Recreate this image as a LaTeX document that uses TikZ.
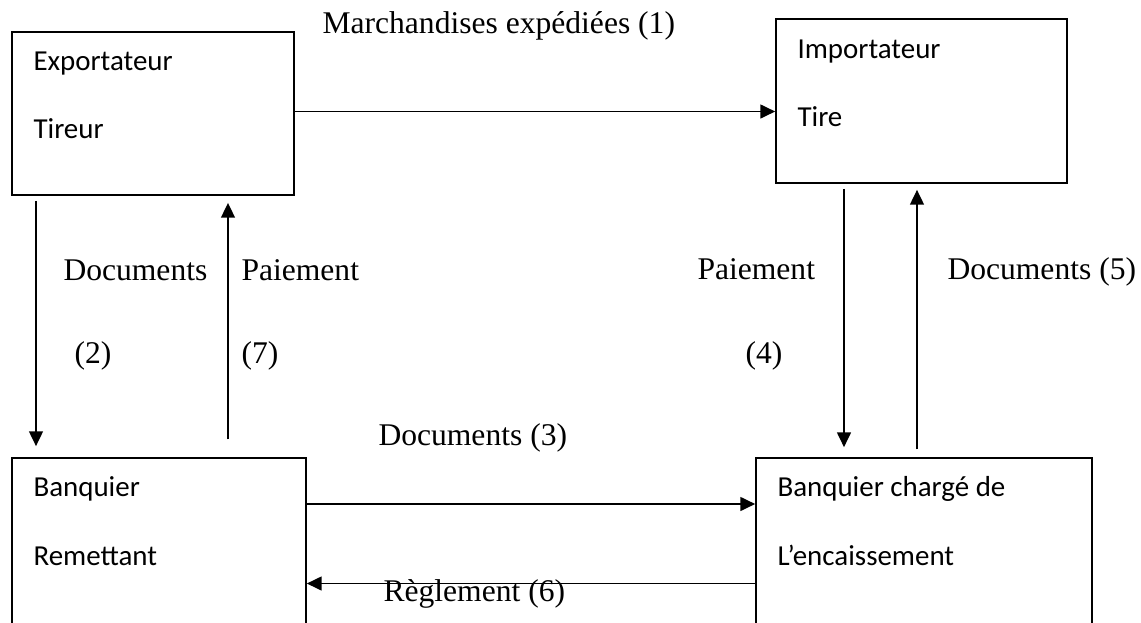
\documentclass[tikz,border=0pt]{standalone}
\usepackage{fontspec}
\setmainfont{Liberation Serif}
\newfontfamily\boxfont{Carlito}
\usetikzlibrary{arrows.meta}
\begin{document}
\begin{tikzpicture}[x=0.38pt,y=-0.38pt,
  party/.style={draw,line width=0.6pt,rectangle,inner sep=0pt},
  intext/.style={font=\boxfont\fontsize{11}{13}\selectfont,anchor=base west,inner sep=0pt},
  lbl/.style={font=\fontsize{12}{14}\selectfont,anchor=base west,inner sep=0pt},
  flow/.style={line width=0.75pt,-{Triangle[length=5.6pt,width=5.2pt]}}]
\clip (0,0) rectangle (1141,623);
% the four parties
\node[party,minimum width=107.16pt,minimum height=61.94pt] (exp) at (153,113.5) {};
\node[party,minimum width=110.58pt,minimum height=62.32pt] (imp) at (921.5,101) {};
\node[party,minimum width=111.72pt,minimum height=69.16pt] (rem) at (159,549) {};
\node[party,minimum width=127.68pt,minimum height=69.16pt] (enc) at (924,549) {};
% texts inside the boxes
\node[intext] (exp1) at (33,70) {Exportateur};
\node[intext] (exp2) at (33,138) {Tireur};
\node[intext] (imp1) at (797,58) {Importateur};
\node[intext] (imp2) at (797,126) {Tire};
\node[intext] (rem1) at (33,496) {Banquier};
\node[intext] (rem2) at (33,565) {Remettant};
\node[intext] (enc1) at (777,496) {Banquier chargé de};
\node[intext] (enc2) at (777,565) {L’encaissement};
% x positions of the vertical flows
\coordinate (x2) at (36,0);
\coordinate (x7) at (228,0);
\coordinate (x4) at (844,0);
\coordinate (x5) at (917,0);
\coordinate (y1) at (0,111.5);
\coordinate (y3) at (0,504);
\coordinate (y6) at (0,583.5);
% flows
\draw[flow] (exp.east |- y1) -- (imp.west |- y1);
\draw[flow,shorten <=1.9pt,shorten >=4.2pt] (exp.south -| x2) -- (rem.north -| x2);
\draw[flow,shorten <=6.8pt,shorten >=2.7pt] (rem.north -| x7) -- (exp.south -| x7);
\draw[flow] (rem.east |- y3) -- (enc.west |- y3);
\draw[flow,shorten <=1.9pt,shorten >=3.8pt] (imp.south -| x4) -- (enc.north -| x4);
\draw[flow,shorten <=3pt,shorten >=2.3pt] (enc.north -| x5) -- (imp.south -| x5);
\draw[flow] (enc.west |- y6) -- (rem.east |- y6);
% flow labels
\node[lbl] (l1) at (322,33) {Marchandises expédiées (1)};
\node[lbl] (l2a) at (63,280) {Documents};
\node[lbl] (l2b) at (74,363) {(2)};
\node[lbl] (l7a) at (241,280) {Paiement};
\node[lbl] (l7b) at (241,363) {(7)};
\node[lbl] (l3) at (378,445) {Documents (3)};
\node[lbl] (l4a) at (697,279) {Paiement};
\node[lbl] (l4b) at (745,363) {(4)};
\node[lbl] (l5) at (947,279) {Documents (5)};
\node[lbl] (l6) at (383,601) {Règlement (6)};
\end{tikzpicture}
\end{document}
